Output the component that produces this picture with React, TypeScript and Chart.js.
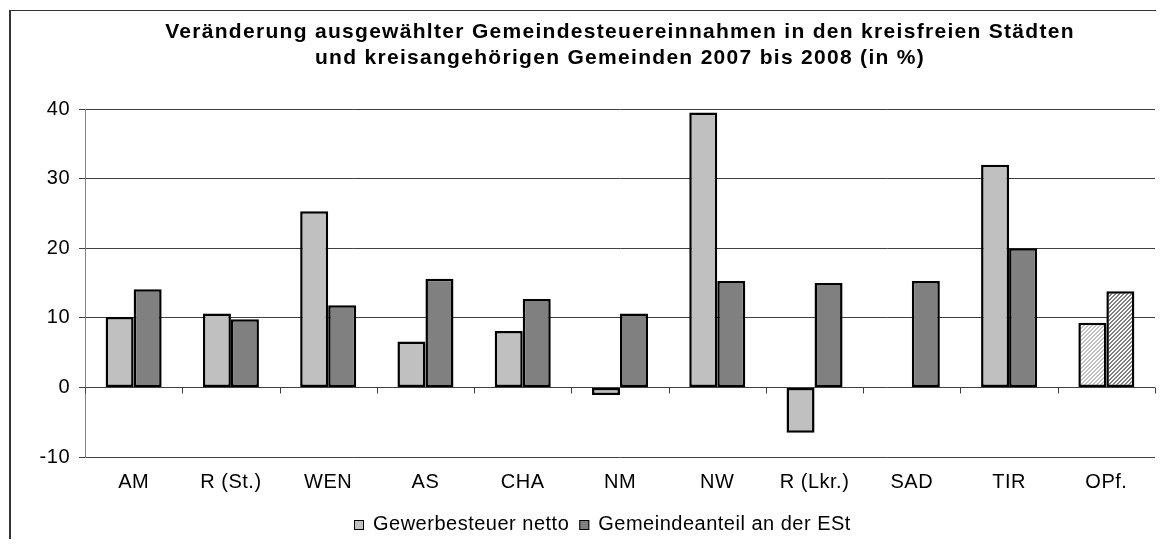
import React, { useEffect, useRef } from 'react';
import { Chart, registerables } from 'chart.js';

Chart.register(...registerables);

const categories = ['AM', 'R (St.)', 'WEN', 'AS', 'CHA', 'NM', 'NW', 'R (Lkr.)', 'SAD', 'TIR', 'OPf.'];
const gewerbesteuer = [10.1, 10.6, 25.3, 6.6, 8.1, -1.1, 39.5, -6.5, null, 32.0, 9.3];
const gemeindeanteil = [14.1, 9.8, 11.8, 15.6, 12.7, 10.6, 15.3, 15.0, 15.3, 20.0, 13.8];
const seriesNames = ['Gewerbesteuer netto', 'Gemeindeanteil an der ESt'];
const titleLines = [
  'Veränderung ausgewählter Gemeindesteuereinnahmen in den kreisfreien Städten',
  'und kreisangehörigen Gemeinden 2007 bis 2008 (in %)',
];
const yMin = -10;
const yMax = 40;
const yStep = 10;
const hatchedCategory = 'OPf.';

const FONT = '"Liberation Sans", Arial, sans-serif';
const LIGHT = '#C0C0C0';
const DARK = '#808080';

function makeHatch(ctx: CanvasRenderingContext2D, color: string) {
  const c = document.createElement('canvas');
  c.width = 4;
  c.height = 4;
  const x = c.getContext('2d')!;
  x.fillStyle = '#ffffff';
  x.fillRect(0, 0, 4, 4);
  x.fillStyle = color;
  for (let i = 0; i < 4; i++) {
    for (let j = 0; j < 4; j++) {
      if ((i + j) % 4 < 2) x.fillRect(i, j, 1, 1);
    }
  }
  return ctx.createPattern(c, 'repeat')!;
}

export default function App() {
  const ref = useRef<HTMLCanvasElement>(null);

  useEffect(() => {
    const canvas = ref.current!;
    const ctx = canvas.getContext('2d')!;
    const lightHatch = makeHatch(ctx, LIGHT);
    const darkHatch = makeHatch(ctx, DARK);
    const bg1 = categories.map((c) => (c === hatchedCategory ? lightHatch : LIGHT));
    const bg2 = categories.map((c) => (c === hatchedCategory ? darkHatch : DARK));

    const decor = {
      id: 'decor',
      beforeDraw(chart: any) {
        const c = chart.ctx as CanvasRenderingContext2D;
        c.save();
        c.fillStyle = '#333333';
        c.fillRect(1, 2, 2, chart.height);
        c.fillRect(1, 2, chart.width, 1);
        c.restore();
        (c as any).letterSpacing = '0.5px';
      },
      afterDatasetsDraw(chart: any) {
        const c = chart.ctx as CanvasRenderingContext2D;
        const xs = chart.scales.x;
        const y0 = Math.round(chart.scales.y.getPixelForValue(0)) + 0.5;
        const step = xs.getPixelForValue(1) - xs.getPixelForValue(0);
        c.save();
        c.strokeStyle = '#404040';
        c.lineWidth = 1;
        c.beginPath();
        for (let i = 0; i <= categories.length; i++) {
          const x = Math.round(xs.getPixelForValue(i) - step / 2) + 0.5;
          c.moveTo(x, y0);
          c.lineTo(x, y0 + 6);
        }
        c.stroke();
        c.restore();
      },
      afterDraw(chart: any) {
        const c = chart.ctx as CanvasRenderingContext2D;
        c.save();
        // title
        c.fillStyle = '#000';
        c.font = `bold 21px ${FONT}`;
        (c as any).letterSpacing = '1.3px';
        c.textAlign = 'center';
        c.textBaseline = 'alphabetic';
        c.fillText(titleLines[0], 612, 29.5);
        c.fillText(titleLines[1], 612, 55.5);
        // legend
        c.font = `20px ${FONT}`;
        (c as any).letterSpacing = '0.5px';
        c.textAlign = 'left';
        const w1 = c.measureText(seriesNames[0]).width;
        const w2 = c.measureText(seriesNames[1]).width;
        const box = 10, gap = 9, itemGap = 10;
        const total = box + gap + w1 + itemGap + box + gap + w2;
        let x = Math.round(594 - total / 2);
        const items = [
          { name: seriesNames[0], color: LIGHT, w: w1 },
          { name: seriesNames[1], color: DARK, w: w2 },
        ];
        for (const it of items) {
          c.fillStyle = it.color;
          c.fillRect(x, 512, box, box);
          c.strokeStyle = '#000';
          c.lineWidth = 1;
          c.strokeRect(x + 0.5, 512.5, box - 1, box - 1);
          c.fillStyle = '#000';
          c.fillText(it.name, x + box + gap, 522);
          x += box + gap + it.w + itemGap;
        }
        c.restore();
      },
    };

    const chart = new Chart(canvas, {
      type: 'bar',
      data: {
        labels: categories,
        datasets: [
          {
            label: seriesNames[0],
            data: gewerbesteuer as any,
            backgroundColor: bg1 as any,
            borderColor: '#000000',
            borderWidth: 2.5,
            borderSkipped: false,
            categoryPercentage: 0.576,
            barPercentage: 1,
          },
          {
            label: seriesNames[1],
            data: gemeindeanteil,
            backgroundColor: bg2 as any,
            borderColor: '#000000',
            borderWidth: 2.5,
            borderSkipped: false,
            categoryPercentage: 0.576,
            barPercentage: 1,
          },
        ],
      },
      options: {
        responsive: false,
        animation: false,
        devicePixelRatio: 1,
        layout: { padding: { top: 101, left: 0, right: 1, bottom: 42 } },
        plugins: {
          legend: { display: false },
          title: { display: false },
          tooltip: { enabled: false },
        },
        scales: {
          x: {
            grid: { display: false, drawTicks: false },
            border: { display: false },
            ticks: {
              color: '#000',
              font: { family: FONT, size: 20 },
              padding: 13,
              maxRotation: 0,
              autoSkip: false,
            },
            afterFit: (s: any) => {
              s.height = 40;
            },
          },
          y: {
            min: yMin,
            max: yMax,
            ticks: {
              stepSize: yStep,
              color: '#000',
              font: { family: FONT, size: 20 },
              padding: 9,
            },
            grid: { color: '#404040', lineWidth: 1, tickLength: 6, drawTicks: true },
            border: { display: true, color: '#808080', width: 1 },
            afterFit: (s: any) => {
              s.width = 77;
            },
          },
        },
      },
      plugins: [decor],
    });

    return () => chart.destroy();
  }, []);

  return <canvas ref={ref} width={1148} height={531} style={{ display: 'block' }} />;
}
